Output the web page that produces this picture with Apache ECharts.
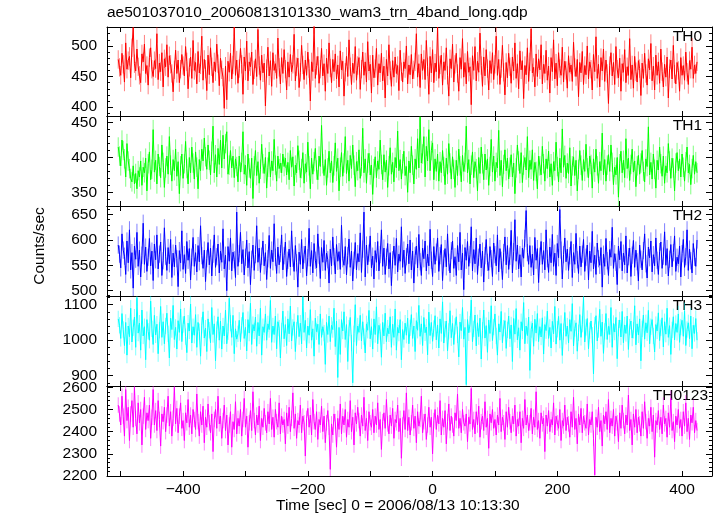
<!DOCTYPE html>
<html><head><meta charset="utf-8">
<script src="https://cdn.jsdelivr.net/npm/echarts@6/dist/echarts.min.js"></script>
<style>html,body{margin:0;padding:0;background:#fff}#c{width:717px;height:516px}</style>
</head><body><div id="c"></div><script>
const startTime = -504, binWidth = 2;
const th0 = [478,465,452,488,470,441,505,462,476,483,448,497,530,471,459,
495,466,452,440,487,474,503,455,468,436,481,497,462,450,476,
463,520,445,472,458,489,433,479,466,502,449,484,470,455,425,
461,493,455,477,440,462,486,468,451,499,474,430,465,482,447,
509,460,473,438,491,456,469,516,444,478,462,427,485,453,497,
466,440,474,458,503,471,435,480,461,449,398,467,412,475,457,
488,446,469,531,452,477,439,463,496,470,421,482,459,508,443,
474,466,490,437,461,479,450,527,468,444,485,456,472,402,463,
498,451,476,434,489,460,471,447,513,465,438,481,455,494,462,
428,474,449,486,458,470,519,443,466,480,432,457,501,469,445,
477,452,490,463,410,474,458,535,447,468,483,439,462,496,451,
471,426,480,455,505,464,440,478,458,487,446,469,433,492,461,
475,418,457,483,450,510,466,437,472,455,499,444,468,481,429,
462,490,452,474,441,507,459,470,423,485,448,463,496,436,471,
456,488,443,467,415,478,451,502,460,434,476,449,482,455,468,
427,493,458,441,474,463,500,438,469,453,486,446,461,474,520,
449,471,432,487,460,478,445,509,466,421,483,456,494,440,472,
458,531,447,469,485,436,474,460,497,452,418,479,463,503,441,
470,488,455,426,481,462,512,449,473,438,491,457,466,404,484,
460,499,443,475,457,521,468,434,482,451,494,463,428,476,455,
489,445,470,516,452,478,437,463,501,457,420,473,448,488,466,
439,482,459,505,447,471,430,492,461,476,414,468,453,497,442,
474,528,456,465,433,487,450,479,461,502,438,470,455,493,444,
467,423,481,458,510,446,472,435,489,463,452,498,441,475,460,
431,484,457,469,442,506,465,450,478,417,473,456,491,437,468,
453,500,446,474,462,428,486,458,515,447,470,433,481,459,495,
442,477,455,406,468,489,451,473,437,499,462,448,480,426,471,
457,494,440,466,452,512,445,469,431,483,458,441,476,463,419,
472,447,488,455,436,479,461,504,443,467,428,485,452,474,439,
495,458,433,470,449,482,415,463,477,446,501,454,438,473,460,
426,481,452,468,444,490,457,437,476,462,498,447,469,455,474];
const th1 = [415,402,388,425,410,398,372,420,395,384,370,365,388,362,377,
355,381,372,395,360,386,378,399,352,391,408,368,383,440,379,
396,362,405,387,371,418,393,357,385,402,376,430,389,366,397,
381,412,373,394,348,388,405,370,391,423,384,362,400,378,415,
392,369,408,386,355,397,381,412,395,428,401,383,418,396,375,
409,445,378,404,372,413,390,425,385,432,398,420,437,376,389,
410,385,402,371,398,387,365,402,379,393,437,376,389,360,405,
385,370,399,341,388,410,374,394,363,383,419,391,377,400,356,
386,408,372,395,381,426,389,366,402,384,392,378,405,387,399,
375,393,368,410,386,401,359,389,378,417,396,371,384,407,363,
391,379,422,388,355,399,376,394,413,382,368,402,387,446,391,
374,397,360,385,409,378,395,364,388,421,380,399,352,386,407,
373,392,430,377,396,366,403,384,418,389,358,394,381,411,370,
387,442,378,398,363,392,406,375,389,347,384,401,371,395,383,
425,390,368,404,379,396,357,388,414,376,393,365,400,385,438,
381,397,369,391,409,374,387,350,395,378,416,389,362,398,383,
427,385,458,392,405,430,372,416,395,440,381,410,421,368,398,
380,405,366,394,378,410,387,361,399,376,420,392,369,401,383,
357,396,374,412,388,365,403,380,393,445,378,397,362,389,408,
371,394,384,352,400,377,415,391,368,405,382,398,360,387,426,
379,402,366,393,385,439,374,396,358,390,411,381,399,369,386,
404,372,392,348,385,418,395,377,407,364,389,400,382,430,371,
396,383,411,367,393,380,355,402,388,375,416,391,366,398,384,
409,372,391,360,394,381,422,387,365,399,378,441,386,403,370,
392,377,414,359,388,401,374,396,352,383,410,389,367,397,380,
419,385,371,402,390,356,398,379,412,388,363,394,381,435,375,
397,366,389,404,380,418,393,361,386,375,400,343,391,409,378,
396,371,427,384,399,367,390,412,379,395,358,388,403,376,392,
410,380,365,398,387,444,375,393,369,405,383,356,396,382,415,
391,373,402,363,388,378,420,395,370,399,385,352,392,407,381,
398,372,405,386,366,394,415,378,390,361,384,403,376,394,378];
const th2 = [590,572,545,612,580,568,532,598,555,620,541,575,505,588,562,
615,548,580,527,570,633,552,586,538,566,603,549,578,520,592,
561,610,543,572,596,530,559,624,568,540,585,553,601,526,574,
547,590,563,508,579,555,618,542,571,534,597,560,583,521,566,
605,548,575,537,589,557,628,569,544,580,518,563,595,551,584,
529,572,610,546,567,592,535,578,556,622,543,570,500,587,558,
604,539,576,561,526,655,548,573,615,553,581,531,566,600,545,
577,512,562,590,540,571,628,556,584,536,568,598,549,575,522,
563,609,544,580,557,632,566,534,586,551,573,610,541,569,596,
528,560,582,547,618,564,538,589,555,507,576,552,601,543,571,
588,529,565,623,548,579,535,593,560,545,612,570,524,585,556,
599,540,574,561,515,582,549,606,567,533,591,558,577,542,629,
563,550,587,531,569,602,546,578,519,560,595,541,573,557,614,
536,582,655,527,590,551,574,608,545,568,523,579,556,597,539,
571,620,548,584,532,566,593,543,575,510,561,588,550,603,537,
572,558,626,546,580,534,567,592,553,600,541,578,515,569,588,
545,611,557,530,584,563,598,539,572,549,621,560,528,587,552,
576,604,538,569,591,520,563,583,547,612,556,535,579,598,544,
567,530,589,557,615,541,574,502,585,560,597,548,571,626,539,
581,553,604,532,566,592,545,578,517,569,601,556,540,587,563,
528,594,571,549,610,537,583,560,522,575,606,551,589,542,568,
619,535,577,640,558,590,543,571,527,584,564,603,658,575,552,
589,546,572,531,605,560,583,516,568,597,552,579,541,620,563,
536,586,555,611,548,574,530,593,565,660,580,523,571,604,557,
582,540,569,597,526,575,552,613,561,534,588,547,572,601,538,
566,590,521,578,555,617,543,570,532,594,563,550,585,507,572,
548,603,559,530,581,566,625,544,573,556,512,588,561,597,539,
574,551,608,535,567,584,528,570,599,546,580,557,519,590,562,
541,579,612,553,525,586,565,598,537,571,549,604,560,532,577,
596,544,568,616,550,583,529,562,591,547,575,608,538,566,553,
588,527,573,601,546,567,620,540,582,559,535,593,566,548,600];
const th3 = [1060,1042,1005,1075,1030,985,1050,958,1040,1010,1090,995,1035,1065,980,
1120,1020,1048,972,1085,1012,1038,945,1058,1025,1000,1110,1032,988,1070,
1015,1045,962,1028,1095,1008,1052,990,1040,1076,1018,950,1062,1030,1098,
1002,1036,975,1055,1022,1088,996,1044,1068,1010,965,1048,1026,1102,992,
1038,1014,1072,980,1050,1024,955,1042,1080,1006,1034,968,1060,1028,993,
1092,1016,1046,942,1030,1066,1000,1054,975,1040,1012,1085,990,1024,1118,
1048,1008,1070,962,1032,1003,1018,1056,996,1042,1078,1005,1036,970,1058,
1020,1104,988,1044,1026,1065,983,1050,1012,1090,958,1038,1022,1074,1000,
1046,1030,1112,994,1040,1016,1068,976,1052,1034,950,1026,1082,1004,1044,
985,1060,1018,1096,998,1036,1052,968,1028,1070,1010,1048,990,1122,1022,
1056,978,1040,1014,1086,1000,1032,955,1062,1024,1045,988,1074,1008,1038,
1020,932,1050,1016,1068,996,1042,1030,1090,982,1054,895,1036,960,1058,
1026,1080,1002,1044,940,1034,1064,992,880,1018,1100,985,1040,1022,1070,
998,1052,1010,964,1046,1028,1084,1004,1038,975,1060,1016,1094,990,1042,
1024,952,1050,1012,1076,996,1034,1018,1066,980,1045,1008,1088,972,1036,
1020,1058,945,1030,1002,1048,1014,1062,990,1035,1072,1005,1040,968,1055,
1028,1098,1011,1046,985,1064,1021,1037,959,1079,1013,1050,997,1033,1069,
1001,1043,978,1060,1019,1108,992,1031,1054,970,1025,1083,1007,1047,988,
1039,1066,1015,953,1051,1027,1092,1003,1036,875,1058,1021,1045,1113,996,
1032,1071,984,1049,1010,1062,947,1028,1085,1006,1041,966,1057,1019,1097,
999,1037,1074,1012,958,1046,1023,1081,993,1034,1055,977,1029,1068,1004,
1043,940,1061,1017,1089,1001,1035,972,1052,1026,1106,990,1040,1013,1065,
915,1030,1048,983,1059,1020,1075,996,1038,1009,1063,961,1044,1027,1082,
1005,1036,978,1053,1018,1095,989,1031,1067,1000,1047,957,1024,1078,1011,
1040,992,1058,1025,1103,984,1033,1049,969,1021,1072,1008,1045,1121,995,
1036,1061,976,1027,1054,1014,905,1042,1069,998,1030,1087,1011,1051,963,
1025,1075,1002,1039,1016,1092,980,1047,1023,1064,948,1034,1057,1009,1081,
993,1043,1019,1068,974,1037,1054,1006,1028,1097,987,1046,1015,1060,942,
1032,1071,1003,1049,1021,1084,990,1038,1058,1012,967,1044,1026,1077,999,
1035,1063,981,1052,1017,1090,1008,1041,960,1029,1066,1001,1047,1022,1074,
994,1037,1056,1011,1083,985,1030,1049,1004,1068,976,1042,1019,1061,1000];
const th0123 = [2520,2480,2430,2560,2470,2380,2590,2450,2510,2360,2480,2540,2420,2600,2460,
2390,2530,2440,2500,2340,2470,2555,2410,2485,2450,2520,2370,2465,2590,2430,
2495,2405,2540,2455,2335,2480,2445,2510,2400,2475,2560,2425,2490,2380,2460,
2600,2435,2505,2395,2470,2530,2415,2450,2360,2485,2440,2545,2420,2475,2390,
2500,2455,2410,2570,2445,2380,2490,2430,2515,2350,2465,2420,2525,2440,2395,
2480,2310,2455,2500,2415,2560,2435,2470,2370,2450,2520,2405,2475,2340,2430,
2490,2330,2445,2410,2535,2390,2460,2425,2500,2380,2455,2550,2420,2470,2330,
2440,2495,2405,2580,2450,2385,2475,2430,2515,2360,2460,2420,2505,2440,2395,
2490,2435,2550,2410,2465,2375,2500,2445,2420,2530,2390,2470,2430,2455,2345,
2485,2425,2510,2400,2460,2575,2415,2480,2370,2450,2430,2520,2395,2470,2440,
2290,2460,2505,2420,2475,2385,2545,2445,2410,2490,2365,2455,2430,2515,2400,
2470,2350,2440,2495,2420,2230,2435,2385,2480,2445,2330,2460,2410,2525,2390,
2470,2430,2500,2375,2455,2420,2540,2400,2465,2340,2485,2435,2510,2450,2380,
2475,2425,2555,2405,2460,2360,2490,2440,2420,2500,2395,2470,2430,2530,2410,
2455,2320,2445,2485,2415,2545,2435,2390,2475,2425,2505,2370,2455,2440,2520,
2400,2460,2280,2430,2495,2410,2575,2405,2465,2385,2440,2520,2415,2470,2350,
2490,2425,2455,2560,2395,2445,2480,2365,2430,2510,2420,2465,2300,2450,2500,
2410,2475,2435,2540,2385,2460,2420,2495,2345,2445,2525,2405,2470,2430,2380,
2485,2450,2570,2415,2460,2395,2500,2440,2425,2480,2355,2465,2435,2595,2410,
2455,2390,2490,2430,2515,2375,2445,2470,2405,2535,2420,2460,2325,2480,2440,
2500,2415,2455,2385,2475,2430,2550,2400,2465,2440,2365,2490,2420,2510,2445,
2395,2470,2435,2520,2380,2455,2425,2490,2350,2460,2415,2545,2430,2475,2405,
2440,2505,2390,2465,2420,2580,2410,2450,2370,2485,2435,2460,2310,2475,2425,
2495,2400,2455,2430,2530,2385,2470,2440,2415,2500,2360,2450,2425,2520,2405,
2465,2435,2375,2490,2420,2555,2410,2460,2345,2480,2430,2505,2395,2470,2440,
2415,2525,2385,2455,2430,2490,2370,2205,2465,2420,2510,2400,2450,2335,2475,
2435,2490,2410,2545,2395,2460,2425,2500,2380,2470,2440,2355,2485,2415,2520,
2450,2390,2475,2430,2565,2405,2455,2340,2480,2420,2500,2395,2465,2435,2380,
2490,2415,2535,2445,2370,2460,2425,2510,2400,2475,2285,2450,2430,2495,2410,
2465,2390,2520,2435,2460,2375,2485,2420,2550,2405,2445,2355,2470,2430,2500,
2415,2455,2380,2490,2425,2530,2400,2460,2365,2475,2440,2510,2395,2450,2405];
const errorSize = [15, 14, 17, 23, 35];

const panelNames = ['TH0','TH1','TH2','TH3','TH0123'];
const panelValues = [th0, th1, th2, th3, th0123];
const colors = ['#ff0000','#00ff00','#0000ff','#00ffff','#ff00ff'];
const yRanges = [[385.5,531],[330.3,459.6],[489.5,667],[871,1124.5],[2200,2606]];
const yMajorTicks = [[400,450,500],[350,400,450],[500,550,600,650],[900,1000,1100],[2200,2300,2400,2500,2600]];
const yMinorStep = [10,10,10,20,20];
const xRange = [-522, 448];
const xTickValues = [-500,-400,-300,-200,-100,0,100,200,300,400];
const xLabelValues = [-400,-200,0,200,400];
const titleText = 'ae501037010_20060813101330_wam3_trn_4band_long.qdp';
const xTitle = 'Time [sec] 0 = 2006/08/13 10:13:30';
const yTitle = 'Counts/sec';

const FONT = '"Liberation Sans", Arial, Helvetica, sans-serif';
const tops = [27,116,206,296,386];
const heights = [89,90,90,90,90];
const labelPos = [[702,29],[702,118],[702,208],[702,298],[708,388]];

const grids = [], xAxes = [], yAxes = [], series = [], graphics = [];
const axisLine = {show:true, onZero:false, lineStyle:{color:'#000', width:1}};
for (let i = 0; i < 5; i++) {
  grids.push({left:107, right:5, top:tops[i], height:heights[i], containLabel:false});
  const last = i === 4;
  xAxes.push({type:'value', gridIndex:i, position:'bottom', min:xRange[0], max:xRange[1],
    axisLine, splitLine:{show:false},
    axisTick:{show:true, inside:true, length:5, customValues:xTickValues, lineStyle:{color:'#000'}},
    axisLabel:{show:last, customValues:xLabelValues, margin:6, color:'#000', fontSize:15.5, fontFamily:FONT,
      formatter:v => v < 0 ? '\u2212' + Math.abs(v) : String(v)}});
  xAxes.push({type:'value', gridIndex:i, position:'top', min:xRange[0], max:xRange[1],
    axisLine, splitLine:{show:false},
    axisTick:{show:true, inside:true, length:5, customValues:xTickValues, lineStyle:{color:'#000'}},
    axisLabel:{show:false}});
  const [ymin, ymax] = yRanges[i];
  const st = yMinorStep[i];
  const minors = [];
  for (let v = Math.ceil(ymin/st)*st; v <= ymax; v += st) if (!yMajorTicks[i].includes(v)) minors.push(v);
  for (const pos of ['left','right']) {
    yAxes.push({type:'value', gridIndex:i, position:pos, min:ymin, max:ymax,
      axisLine, splitLine:{show:false},
      axisTick:{show:true, inside:true, length:6, customValues:yMajorTicks[i], lineStyle:{color:'#000'}},
      axisLabel:{show:pos==='left', customValues:yMajorTicks[i], margin:10, color:'#000', fontSize:15.5, fontFamily:FONT,
        formatter:v => String(v)}});
    yAxes.push({type:'value', gridIndex:i, position:pos, min:ymin, max:ymax,
      axisLine:{show:false, onZero:false}, splitLine:{show:false},
      axisTick:{show:true, inside:true, length:3, customValues:minors, lineStyle:{color:'#000'}},
      axisLabel:{show:false}});
  }
  const pts = panelValues[i].map((v, k) => [startTime + k*binWidth, v]);
  const err = errorSize[i], col = colors[i];
  series.push({type:'custom', xAxisIndex:2*i, yAxisIndex:4*i, clip:true, animation:false, z:1,
    data: pts,
    renderItem: (params, api) => {
      const x = api.value(0), y = api.value(1);
      const a = api.coord([x, y - err]), b = api.coord([x, y + err]);
      return {type:'line', shape:{x1:a[0], y1:a[1], x2:b[0], y2:b[1]},
        style:{stroke:col, lineWidth:1, opacity:0.5}};
    }});
  series.push({type:'line', xAxisIndex:2*i, yAxisIndex:4*i, showSymbol:false, symbol:'none',
    clip:true, sampling:null, animation:false, z:2,
    lineStyle:{color:col, width:1}, itemStyle:{color:col},
    data: pts});
  graphics.push({type:'text', right: 717 - labelPos[i][0], top: labelPos[i][1],
    style:{text:panelNames[i], fill:'#000', font:'15.5px ' + FONT, textAlign:'right'}});
}
graphics.push({type:'text', left:107, top:5, style:{text:titleText, fill:'#000', font:'15.5px ' + FONT}});
graphics.push({type:'text', left:276, top:498, style:{text:xTitle, fill:'#000', font:'15.5px ' + FONT}});
graphics.push({type:'text', x:40, y:246, rotation:Math.PI/2,
  style:{text:yTitle, fill:'#000', font:'15.5px ' + FONT, textAlign:'center', textVerticalAlign:'middle'}});

const chart = echarts.init(document.getElementById('c'), null, {renderer:'canvas'});
chart.setOption({animation:false, backgroundColor:'#fff', grid:grids, xAxis:xAxes, yAxis:yAxes, series, graphic:graphics});
</script></body></html>
